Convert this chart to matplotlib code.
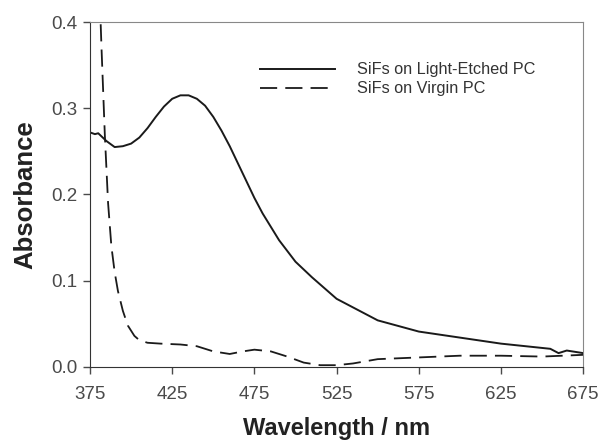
import numpy as np
import matplotlib.pyplot as plt

# Absorbance spectra
wl_etched = [375, 378, 380, 385, 390, 395, 400, 405, 410, 415, 420, 425, 430, 435, 440,
             445, 450, 455, 460, 465, 470, 475, 480, 490, 500, 510, 525, 550, 575,
             600, 625, 650, 655, 660, 665, 675]
abs_etched = [0.272, 0.270, 0.271, 0.262, 0.255, 0.256, 0.259, 0.266, 0.277, 0.290, 0.302, 0.311, 0.315,
              0.315, 0.311, 0.303, 0.290, 0.274, 0.256, 0.236, 0.216, 0.196, 0.178, 0.147, 0.122,
              0.104, 0.079, 0.054, 0.041, 0.034, 0.027, 0.022, 0.021, 0.016, 0.019, 0.016]

wl_virgin = [378, 380, 382, 384, 386, 388, 390, 392, 395, 398, 402, 405, 410, 418, 430, 440,
             450, 460, 468, 475, 485, 495, 505, 515, 525, 535, 550, 575, 600, 625, 650, 675]
abs_virgin = [0.62, 0.48, 0.37, 0.27, 0.19, 0.14, 0.11, 0.088, 0.065, 0.048, 0.036, 0.031,
              0.028, 0.027, 0.026, 0.024, 0.018, 0.015, 0.018, 0.020, 0.018, 0.012, 0.005,
              0.002, 0.002, 0.004, 0.009, 0.011, 0.013, 0.013, 0.012, 0.014]

x_ticks = [375, 425, 475, 525, 575, 625, 675]
y_ticks = [0.0, 0.1, 0.2, 0.3, 0.4]

plt.rcParams['font.family'] = ['Liberation Sans', 'DejaVu Sans']

fig = plt.figure(figsize=(6, 4.41), dpi=100)
ax = fig.add_axes([0.15, 0.168, 0.822, 0.782])

ax.plot(wl_etched, abs_etched, color='#1a1a1a', lw=1.4, label='SiFs on Light-Etched PC')
ax.plot(wl_virgin, abs_virgin, color='#1a1a1a', lw=1.3, dashes=(9.5, 4.5),
        label='SiFs on Virgin PC')

ax.set_xlim(375, 675)
ax.set_ylim(0, 0.4)
ax.set_xticks(x_ticks)
ax.set_yticks(y_ticks)
ax.set_yticklabels(['%.1f' % v for v in y_ticks])
ax.tick_params(direction='out', length=5, width=1, labelsize=13.5, colors='#4a4a4a')
ax.tick_params(axis='x', pad=8.5)
ax.tick_params(axis='y', pad=4)

for s in ['left', 'bottom']:
    ax.spines[s].set_color('#333333')
for s in ['top', 'right']:
    ax.spines[s].set_color('#888888')

ax.set_xlabel('Wavelength / nm', fontsize=17, fontweight='bold', color='#222222', labelpad=10)
ax.set_ylabel('Absorbance', fontsize=18.5, fontweight='bold', color='#222222', labelpad=10)

ax.legend(loc='upper left', bbox_to_anchor=(0.345, 0.883), frameon=False, fontsize=11.7,
          handlelength=4.6, handletextpad=1.35, labelspacing=0.25, borderpad=0,
          borderaxespad=0, labelcolor='#333333')

fig.savefig('out.png', dpi=100)
